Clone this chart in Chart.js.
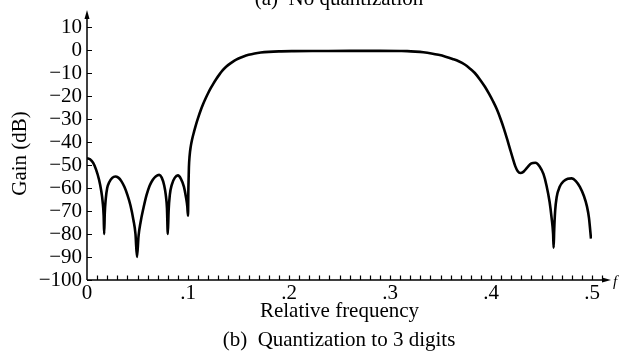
<!DOCTYPE html>
<html>
<head>
<meta charset="utf-8">
<script src="https://cdn.jsdelivr.net/npm/chart.js@4/dist/chart.umd.min.js"></script>
<style>
  html, body { margin: 0; padding: 0; background: #ffffff; }
  canvas { display: block; }
</style>
</head>
<body>
<canvas id="c" width="619" height="355"></canvas>
<script>
// Relative frequency (x) and gain in dB (y)
const freqs = [
  0, 0.003, 0.006, 0.009, 0.012, 0.014, 0.0155, 0.0165, 0.017,
  0.0176, 0.0185, 0.020, 0.022, 0.025, 0.028, 0.031, 0.034, 0.037, 0.040, 0.043, 0.046, 0.048, 0.0495,
  0.051, 0.053, 0.056, 0.059, 0.062, 0.065, 0.068, 0.0715, 0.074, 0.0765, 0.078, 0.0792, 0.0800,
  0.0808, 0.082, 0.084, 0.087, 0.090, 0.093, 0.096, 0.098, 0.0993, 0.1000,
  0.1004, 0.1009, 0.1016, 0.1027, 0.104, 0.106, 0.108, 0.110, 0.1125, 0.115, 0.1175, 0.120, 0.1225, 0.125,
  0.128, 0.131, 0.134, 0.138, 0.142, 0.146, 0.150, 0.155, 0.160, 0.166, 0.172, 0.180, 0.190,
  0.205, 0.230, 0.260, 0.290, 0.310, 0.317,
  0.325, 0.333, 0.341, 0.348, 0.355, 0.362, 0.368, 0.374, 0.379, 0.384, 0.389, 0.394, 0.398, 0.402,
  0.406, 0.4095, 0.413, 0.416, 0.419, 0.4215, 0.424, 0.4265, 0.429,
  0.432, 0.436, 0.440, 0.444, 0.448, 0.452, 0.455, 0.458, 0.460, 0.4615, 0.462,
  0.4626, 0.4635, 0.465, 0.468, 0.472, 0.476, 0.480, 0.484, 0.488, 0.492, 0.495, 0.497, 0.499
];
const gains = [
  -47, -47.5, -49, -52, -56.5, -61, -66, -72, -80,
  -71, -65, -60, -57.5, -55.6, -55, -55.5, -57, -59.5, -63, -67.5, -74, -80, -90,
  -81, -75, -68.5, -63, -59, -56.5, -55, -54.3, -55.5, -59, -63, -69, -80,
  -70, -63, -58.5, -55.5, -54.5, -56, -59.5, -64, -68, -72,
  -60, -51, -46, -42, -39, -35.5, -32.3, -29.5, -26.3, -23.5, -21, -18.7, -16.6, -14.7,
  -12.6, -10.7, -9, -7.2, -5.8, -4.6, -3.7, -2.8, -2.1, -1.5, -1.1, -0.8, -0.6,
  -0.5, -0.45, -0.4, -0.4, -0.45, -0.5,
  -0.7, -1.0, -1.5, -2.1, -2.9, -3.9, -4.9, -6.3, -8, -10, -12.8, -16, -19, -22.3,
  -26, -30, -34.5, -38.8, -43.3, -47, -50.5, -52.7, -53.5,
  -53, -51, -49.3, -49, -50.5, -54, -59, -66, -73, -80, -86,
  -78, -70, -64, -59.5, -57, -56, -55.8, -57, -59.5, -63.5, -68, -73, -82
];
const xTickValues = [0, 0.1, 0.2, 0.3, 0.4, 0.5];
const yTickValues = [-100, -90, -80, -70, -60, -50, -40, -30, -20, -10, 0, 10];

const FONT = "'Liberation Serif', 'Times New Roman', serif";
const FS = 21;

const axesPlugin = {
  id: 'axesPlugin',
  afterDraw(chart) {
    const ctx = chart.ctx;
    const xs = chart.scales.x, ys = chart.scales.y;
    const x0 = xs.getPixelForValue(0);
    const yb = ys.getPixelForValue(-100);
    const yTop = 10, xEnd = 611;
    ctx.save();
    ctx.strokeStyle = '#000';
    ctx.fillStyle = '#000';
    ctx.lineWidth = 1.5;
    ctx.beginPath();
    ctx.moveTo(x0, yb); ctx.lineTo(x0, yTop + 6);
    ctx.moveTo(x0, yb); ctx.lineTo(xEnd - 7, yb);
    ctx.stroke();
    ctx.beginPath();
    ctx.moveTo(x0, yTop); ctx.lineTo(x0 - 2.5, yTop + 9); ctx.lineTo(x0 + 2.5, yTop + 9); ctx.closePath();
    ctx.fill();
    ctx.beginPath();
    ctx.moveTo(xEnd, yb); ctx.lineTo(xEnd - 9, yb - 2.5); ctx.lineTo(xEnd - 9, yb + 2.5); ctx.closePath();
    ctx.fill();
    ctx.lineWidth = 1.2;
    ctx.beginPath();
    yTickValues.forEach(v => {
      const y = Math.round(ys.getPixelForValue(v)) + 0.5;
      ctx.moveTo(x0, y); ctx.lineTo(x0 + 5, y);
    });
    for (let i = 1; i <= 51; i++) {
      const x = Math.round(xs.getPixelForValue(i / 100)) + 0.5;
      ctx.moveTo(x, yb); ctx.lineTo(x, yb - 4.5);
    }
    ctx.stroke();
    ctx.font = FS + 'px ' + FONT;
    ctx.textAlign = 'center';
    ctx.textBaseline = 'alphabetic';
    const cx = 339;
    ctx.fillText('(a)  No quantization', cx, 5);
    ctx.fillText('(b)  Quantization to 3 digits', cx, 346);
    ctx.font = 'italic 15px ' + FONT;
    ctx.textAlign = 'left';
    ctx.fillText('f', 613, 286);
    ctx.restore();
  }
};

new Chart(document.getElementById('c'), {
  type: 'line',
  data: {
    datasets: [{
      data: freqs.map((f, i) => ({ x: f, y: gains[i] })),
      borderColor: '#000',
      borderWidth: 2.6,
      pointRadius: 0,
      fill: false,
      cubicInterpolationMode: 'monotone'
    }]
  },
  options: {
    responsive: false,
    devicePixelRatio: 1,
    animation: false,
    layout: { padding: { left: 0, right: 27, top: 27, bottom: 0 } },
    plugins: { legend: { display: false }, tooltip: { enabled: false }, title: { display: false } },
    scales: {
      x: {
        type: 'linear',
        min: 0, max: 0.5,
        grid: { display: false, drawTicks: false },
        border: { display: false },
        afterFit: s => { s.height = 75; },
        afterBuildTicks: s => { s.ticks = xTickValues.map(v => ({ value: v })); },
        ticks: {
          autoSkip: false,
          maxRotation: 0,
          padding: 1,
          color: '#000',
          font: { family: FONT, size: FS },
          callback: v => v === 0 ? '0' : '.' + Math.round(v * 10)
        },
        title: {
          display: true,
          text: 'Relative frequency',
          color: '#000',
          font: { family: FONT, size: FS },
          padding: { top: 0, bottom: 31 }
        }
      },
      y: {
        type: 'linear',
        min: -100, max: 10,
        grid: { display: false, drawTicks: false },
        border: { display: false },
        afterFit: s => { s.width = 87; },
        afterBuildTicks: s => { s.ticks = yTickValues.map(v => ({ value: v })); },
        ticks: {
          autoSkip: false,
          padding: 5,
          color: '#000',
          font: { family: FONT, size: FS },
          callback: v => v < 0 ? '\u2212' + Math.abs(v) : String(v)
        },
        title: {
          display: true,
          text: 'Gain (dB)',
          color: '#000',
          font: { family: FONT, size: FS },
          padding: { top: 8, bottom: 0 }
        }
      }
    }
  },
  plugins: [axesPlugin]
});
</script>
</body>
</html>
